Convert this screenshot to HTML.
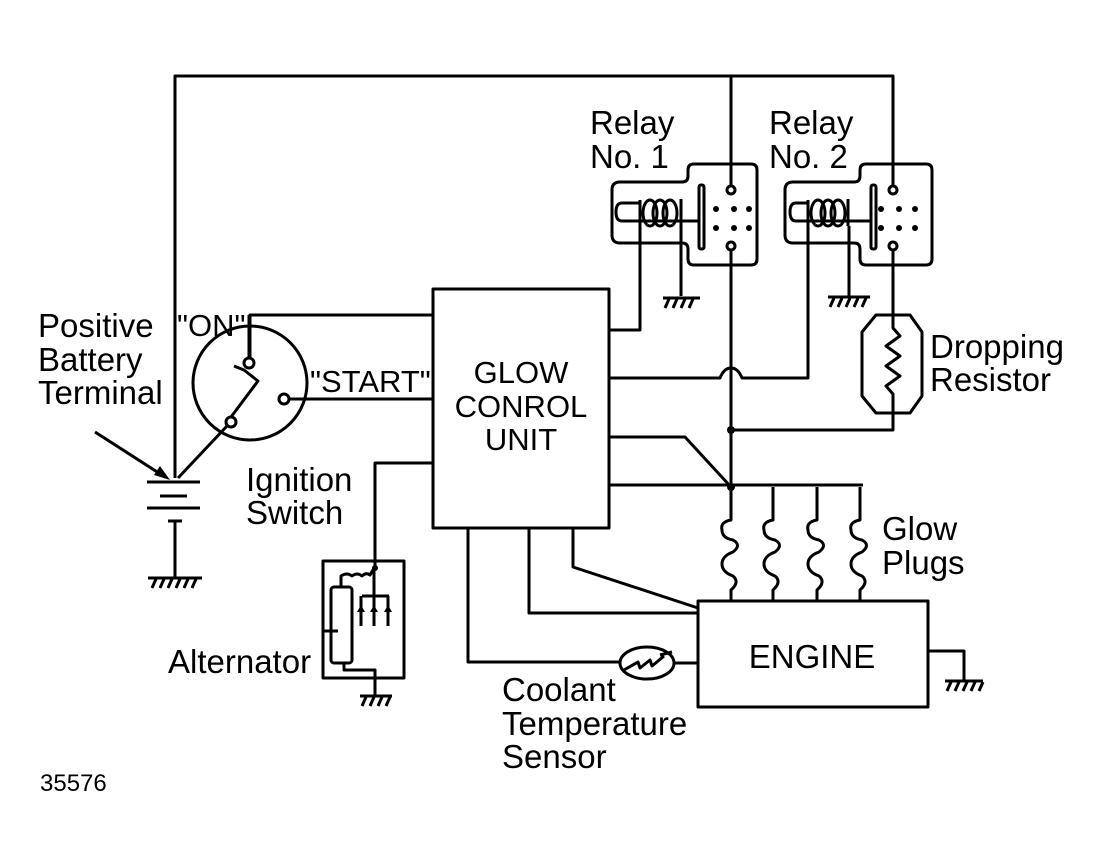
<!DOCTYPE html>
<html><head><style>
html,body{margin:0;padding:0;background:#fff;}
svg{display:block;}
text{font-family:"Liberation Sans",Arial,sans-serif;fill:#000;font-size:33px;}
</style></head><body>
<svg width="1099" height="867" viewBox="0 0 1099 867" xmlns="http://www.w3.org/2000/svg">
<g fill="none" stroke="#000" stroke-width="3" stroke-linejoin="round">
<path d="M175 478 V76 H893 V186"/>
<path d="M731 76 V186"/>
<path d="M620 182 H682 Q688 182 688 176 V170 Q688 164 694 164 H751 Q757 164 757 170 V259 Q757 265 751 265 H694 Q688 265 688 259 V249 Q688 243 682 243 H620 Q612 243 612 235 V190 Q612 182 620 182 Z"/>
<path d="M640 200 V226 M681 199 V226 M640 203 H622 Q616 203 616 212 Q616 221 622 221 H700"/>
<ellipse cx="650" cy="213" rx="7" ry="13"/><ellipse cx="660" cy="213" rx="7" ry="13"/><ellipse cx="670" cy="213" rx="7" ry="13"/>
<rect x="699" y="185" width="5" height="64" rx="2"/>
<circle cx="731" cy="190" r="4"/><circle cx="731" cy="246" r="4"/>
<path d="M640 226 V330 H610 M681 226 V296 M731 250 V487"/>
<path d="M793 182 H854 Q860 182 860 176 V170 Q860 164 866 164 H926 Q932 164 932 170 V259 Q932 265 926 265 H866 Q860 265 860 259 V249 Q860 243 854 243 H793 Q785 243 785 235 V190 Q785 182 793 182 Z"/>
<path d="M808 200 V226 M848 199 V226 M808 203 H796 Q790 203 790 212 Q790 221 796 221 H872"/>
<ellipse cx="818" cy="213" rx="7" ry="13"/><ellipse cx="828" cy="213" rx="7" ry="13"/><ellipse cx="838" cy="213" rx="7" ry="13"/>
<rect x="871" y="185" width="5" height="64" rx="2"/>
<circle cx="893" cy="190" r="4"/><circle cx="893" cy="246" r="4"/>
<path d="M808 226 V378 H742 Q738 368 731 368 Q724 368 720 378 H610 M849 226 V296 M893 250 V316"/>
<path d="M876 315 H910 L922 332 V396 L910 413 H876 L862 396 V332 Z"/>
<path d="M893 316 V328 L900 336 L886 346 L900 356 L886 366 L900 376 L886 386 L893 394 V430 H731"/>
<rect x="433" y="289" width="176" height="239"/>
<path d="M433 315 H250 V359 M433 399 H288 M433 463 H375 V567"/>
<path d="M609 437 H685 L731 487 M609 485 H863"/>
<path d="M468 528 V662 H620 M674 663 H698 M529 528 V613 H698 M573 528 V567 L698 608"/>
<path id="gp" d="M731 487 V520 Q720 522 722 530 Q722 538 733 540 Q742 545 733 552 Q722 556 722 564 Q722 572 733 576 Q740 582 731 590 V601"/>
<use href="#gp" x="42"/><use href="#gp" x="86"/><use href="#gp" x="129"/>
<rect x="698" y="601" width="230" height="106"/>
<path d="M928 651 H964 V680"/>
<ellipse cx="647" cy="663" rx="27" ry="16"/>
<path d="M624 670 L638 662 L640 668 L650 660 L652 666 L664 656 M660 655 L672 652"/>
<circle cx="250" cy="383" r="57"/>
<circle cx="249" cy="363" r="5"/><circle cx="284" cy="399" r="5"/><circle cx="231" cy="422" r="5"/>
<path d="M249 358 V315 M231 417 L258 381 L244 370 L234 366 M227 426 L178 478"/>
<path d="M147 482 H200 M160 496 H187 M147 508 H200 M168 521 H182 M175 521 V577"/>
<path d="M95 432 L165 477"/>
<rect x="323" y="561" width="81" height="117"/>
<rect x="331" y="587" width="21" height="76" rx="3"/>
<path d="M323 631 H338 M341 587 V576 Q347 572 352 576 Q357 572 362 576 Q366 572 370 575 L374 568 V596 M362 596 H389 M361 596 V626 M374 596 V626 M388 596 V626 M344 663 V670 H375 V695"/>
<path d="M375 567 V561"/>
</g>
<g fill="#000">
<polygon points="170,480 154,475 160,466"/>
<circle cx="731" cy="430" r="4"/><circle cx="731" cy="487" r="4"/><circle cx="375" cy="568" r="3"/>
<circle cx="716" cy="209" r="3"/><circle cx="734" cy="209" r="3"/><circle cx="749" cy="209" r="3"/>
<circle cx="716" cy="228" r="3"/><circle cx="734" cy="228" r="3"/><circle cx="749" cy="228" r="3"/>
<circle cx="881" cy="209" r="3"/><circle cx="899" cy="209" r="3"/><circle cx="915" cy="209" r="3"/>
<circle cx="881" cy="228" r="3"/><circle cx="899" cy="228" r="3"/><circle cx="915" cy="228" r="3"/>
<path d="M357 612 h8 l-4 -7 z M370 612 h8 l-4 -7 z M384 612 h8 l-4 -7 z"/>
</g>
<g stroke="#000" stroke-width="3" fill="none">
<path d="M148 578 H202 M152 588 L156 579 M160 588 L164 579 M168 588 L172 579 M176 588 L180 579 M184 588 L188 579 M192 588 L196 579"/>
<path d="M663 298 H700 M665 308 L669 299 M673 308 L677 299 M681 308 L685 299 M689 308 L693 299"/>
<path d="M828 297 H870 M830 307 L834 298 M838 307 L842 298 M846 307 L850 298 M854 307 L858 298 M862 307 L866 298"/>
<path d="M360 696 H392 M362 706 L366 697 M370 706 L374 697 M378 706 L382 697 M386 706 L390 697"/>
<path d="M945 681 H983 M947 691 L951 682 M955 691 L959 682 M963 691 L967 682 M971 691 L975 682 M979 691 L983 682"/>
</g>
<text x="590" y="134">Relay</text><text x="590" y="168">No. 1</text>
<text x="769" y="134">Relay</text><text x="769" y="168">No. 2</text>
<text x="38" y="337">Positive</text><text x="38" y="371">Battery</text><text x="38" y="404">Terminal</text>
<text x="177" y="336" style="font-size:31px">"ON"</text>
<text x="310" y="392" style="font-size:31px">"START"</text>
<text x="246" y="491">Ignition</text><text x="246" y="524">Switch</text>
<text x="521" y="383" text-anchor="middle" style="font-size:31px">GLOW</text>
<text x="521" y="417" text-anchor="middle" style="font-size:31px">CONROL</text>
<text x="521" y="450" text-anchor="middle" style="font-size:31px">UNIT</text>
<text x="930" y="358">Dropping</text><text x="930" y="391">Resistor</text>
<text x="882" y="540">Glow</text><text x="882" y="574">Plugs</text>
<text x="812" y="668" text-anchor="middle">ENGINE</text>
<text x="168" y="673">Alternator</text>
<text x="502" y="701">Coolant</text><text x="502" y="735">Temperature</text><text x="502" y="768">Sensor</text>
<text x="40" y="791" style="font-size:24px">35576</text>
</svg>
</body></html>
